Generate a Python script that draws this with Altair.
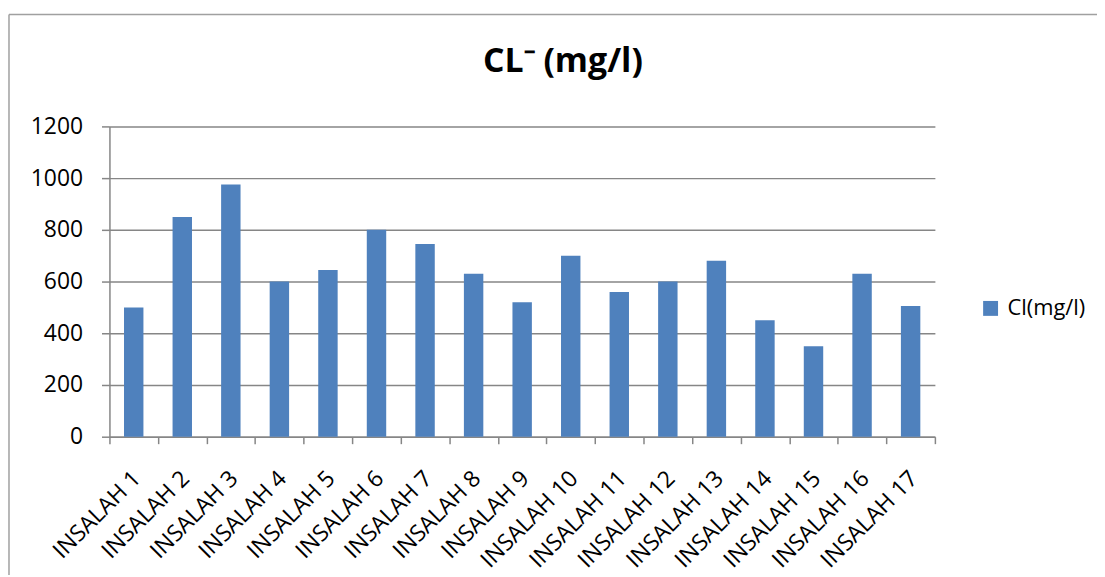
import altair as alt
import pandas as pd

categories = [f"INSALAH {i}" for i in range(1, 18)]
values = [500, 850, 975, 600, 645, 800, 745, 630, 520, 700, 560, 600, 680, 450, 350, 630, 505]
series_name = "Cl(mg/l)"
y_ticks = [0, 200, 400, 600, 800, 1000, 1200]

df = pd.DataFrame({"station": categories, "cl": values, "series": [series_name] * len(categories)})

FONT = "Open Sans"
GRAY = "#868686"
W, H = 830, 312

bars = alt.Chart(df).mark_bar(width=alt.RelativeBandSize(0.4), color="#4F81BD").encode(
    x=alt.X(
        "station:N",
        sort=categories,
        scale=alt.Scale(paddingInner=0, paddingOuter=0),
        axis=alt.Axis(
            title=None,
            labelAngle=-45,
            labelAlign="right",
            labelBaseline="middle",
            labelFont=FONT,
            labelFontSize=23,
            labelColor="black",
            labelPadding=31,
            labelOffset=3,
            tickBand="extent",
            tickSize=7,
            tickColor=GRAY,
            tickWidth=1.5,
            domainColor=GRAY,
            domainWidth=1.5,
            grid=False,
        ),
    ),
    y=alt.Y(
        "cl:Q",
        scale=alt.Scale(domain=[0, 1200], nice=False),
        axis=alt.Axis(
            title=None,
            values=y_ticks,
            format="d",
            labelFont=FONT,
            labelFontSize=23,
            labelColor="black",
            labelPadding=19,
            tickSize=8,
            tickColor=GRAY,
            tickWidth=1.5,
            domainColor=GRAY,
            domainWidth=1.5,
            grid=True,
            gridColor=GRAY,
            gridWidth=1.5,
        ),
    ),
    color=alt.Color(
        "series:N",
        scale=alt.Scale(range=["#4F81BD"]),
        legend=alt.Legend(
            title=None,
            orient="none",
            legendX=875,
            legendY=172,
            padding=0,
            symbolType="square",
            symbolSize=225,
            symbolStrokeWidth=0,
            symbolOffset=0,
            labelFont=FONT,
            labelFontSize=22,
            labelColor="black",
            labelOffset=6,
        ),
    ),
)

blank = alt.Data(values=[{}])
border_v = alt.Chart(blank).mark_rule(color="#a0a0a0", strokeWidth=1.5).encode(
    x=alt.value(-101), y=alt.value(-112.5), y2=alt.value(600)
)
border_h = alt.Chart(blank).mark_rule(color="#a0a0a0", strokeWidth=1.5).encode(
    x=alt.value(-101), x2=alt.value(1100), y=alt.value(-112.5)
)

chart = alt.layer(border_v, border_h, bars).properties(
    width=W,
    height=H,
    title=alt.TitleParams(
        "CL\u207b  (mg/l)",
        font=FONT,
        fontSize=34,
        fontWeight="bold",
        color="black",
        anchor="middle",
        dx=41,
        dy=100,
        offset=34,
    ),
    padding={"left": 102, "top": 117.5, "right": 163, "bottom": 137.5},
    autosize=alt.AutoSizeParams(type="none"),
).configure_view(stroke=None)

chart.save("out.html", embed_options={"renderer": "svg", "actions": False})
